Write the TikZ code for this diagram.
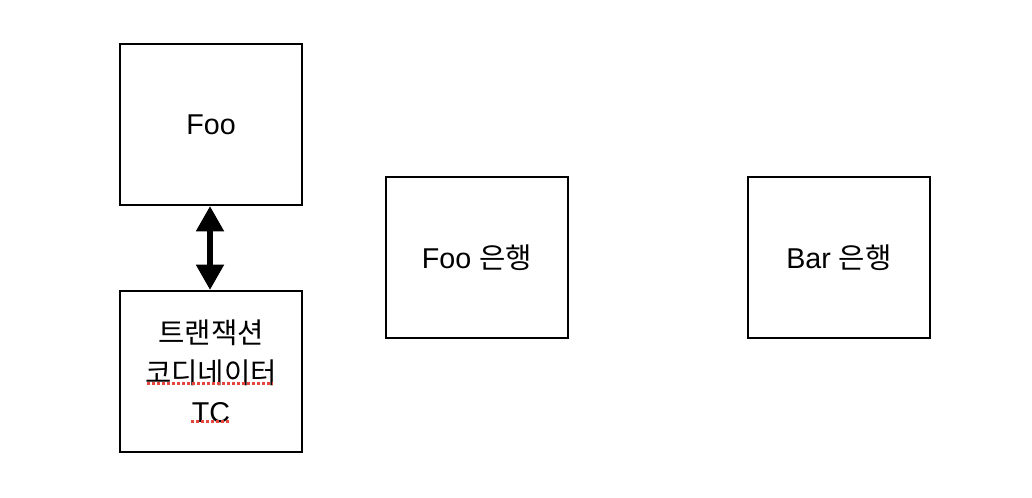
\documentclass[tikz,border=0pt]{standalone}
\usepackage{fontspec}
\setmainfont{Liberation Sans}
\newfontfamily\cjk{Noto Sans CJK KR}
\usetikzlibrary{arrows.meta}
\begin{document}
\begin{tikzpicture}[x=0.75pt,y=-0.75pt,
  box/.style={draw=black,line width=1.5pt,minimum width=136.5pt,minimum height=120.75pt,inner sep=0pt,align=center,font=\fontsize{21.5}{29.5}\selectfont},
  squiggle/.style={draw={rgb,255:red,230;green,70;blue,60},line width=2.25pt,dash pattern=on 2.25pt off 1.5pt}]
\useasboundingbox (0,0) rectangle (1032,498);
\node[box] (foo) at (211,124.5) {Foo};
\node[box] (tc) at (211,371.5) {{\cjk 트랜잭션}\\{\cjk 코디네이터}\\TC};
\node[box] (foobank) at (477,257.5) {Foo {\cjk 은행}};
\node[box] (barbank) at (839,257.5) {Bar {\cjk 은행}};
\draw[line width=4.5pt,{Triangle[width=20pt,length=19pt]}-{Triangle[width=20pt,length=19pt]}]
  (foo.south -| 210,0) -- (tc.north -| 210,0);
\draw[squiggle] (147,384) -- (273,384);
\draw[squiggle] (191,422) -- (230,422);
\end{tikzpicture}
\end{document}
